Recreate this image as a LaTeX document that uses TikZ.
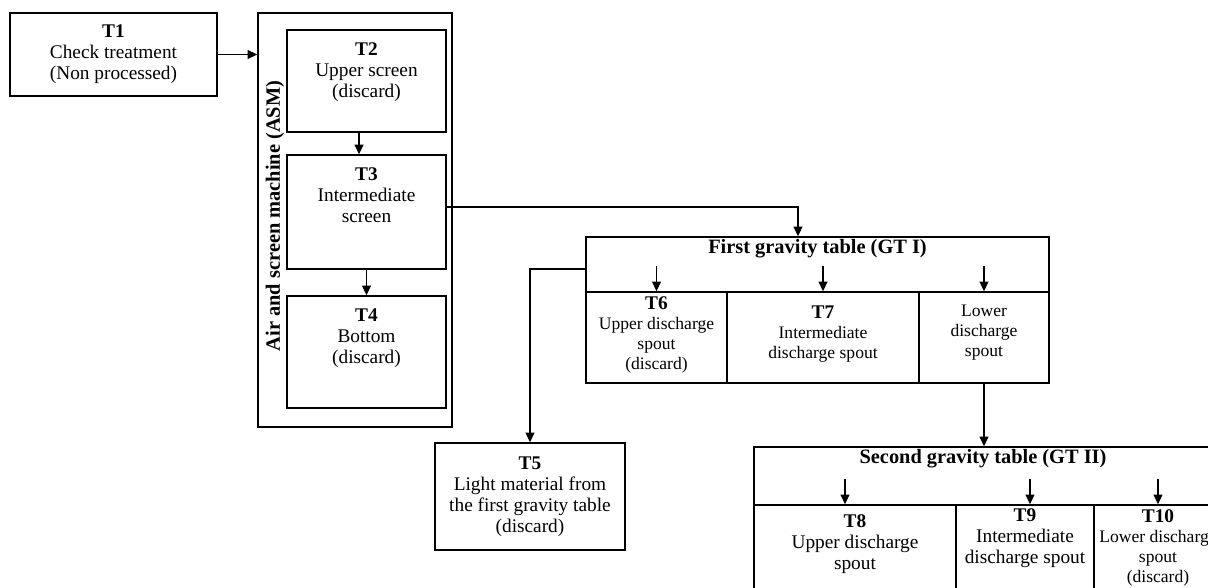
\documentclass[tikz,border=0pt]{standalone}
\usepackage{fontspec}
\setmainfont{Liberation Serif}
\usepackage{tikz}
\usetikzlibrary{arrows.meta}
\usetikzlibrary{positioning}

\newcommand{\tid}[1]{{\fontsize{11}{12}\selectfont\textbf{#1}}}

\tikzset{
  box/.style={draw, rectangle, inner sep=0pt, align=center, font=\fontsize{11}{12}\selectfont},
  cell/.style={draw, rectangle, inner sep=0pt},
  sz/.style 2 args={minimum width=#1*0.02cm, minimum height=#2*0.02cm},
  txt/.style={align=center, inner sep=0pt, font=\fontsize{11}{12}\selectfont},
  small/.style={align=center, inner sep=0pt, font=\fontsize{10}{11.4}\selectfont},
  heading/.style={inner sep=0pt, font=\fontsize{11.6}{13}\selectfont\bfseries},
  flow/.style={-{Triangle[length=5.5pt,width=5pt]}},
}

\begin{document}
\begin{tikzpicture}[x=0.02cm, y=-0.02cm, line width=0.8pt]
            \useasboundingbox (0,0) rectangle (1208,588);
            \clip (0,0) rectangle (1208,588);

            \node[box, sz={207}{83}] (t1) at (113.5,54.5) {\textbf{T1}\\Check treatment\\(Non processed)};

            \node[cell, sz={194}{414}] (asm) at (355,220) {};
            \node[heading, rotate=90] (asmname) at (275,216) {Air and screen machine (ASM)};
            \node[cell, sz={159}{102}] (t2) at (366.5,81) {};
            \node[txt, below=7.4pt of t2.north] (t2txt) {\textbf{T2}\\Upper screen\\(discard)};
            \node[cell, sz={159}{114}] (t3) at (366.5,212) {};
            \node[txt, below=7.4pt of t3.north] (t3txt) {\textbf{T3}\\Intermediate\\screen};
            \node[cell, sz={159}{112}] (t4) at (366.5,352) {};
            \node[txt, below=7.4pt of t4.north] (t4txt) {\textbf{T4}\\Bottom\\(discard)};

            \node[cell, sz={463}{55}] (gt1) at (817.5,264.5) {};
            \node[heading, below=1.5pt of gt1.north] (gt1name) {First gravity table (GT I)};
            \node[cell, sz={141}{91}] (t6) at (656.5,337.5) {};
            \node[cell, sz={192}{91}] (t7) at (823,337.5) {};
            \node[cell, sz={130}{91}] (lds) at (984,337.5) {};
            \node[small] (t6txt) at ([yshift=0.05cm]t6.center) {\tid{T6}\\Upper discharge\\spout\\(discard)};
            \node[small] (t7txt) at ([yshift=0.06cm]t7.center) {\tid{T7}\\Intermediate\\discharge spout};
            \node[small] (ldstxt) at ([yshift=0.1cm]lds.center) {Lower\\discharge\\spout};

            \node[box, sz={190}{107}] (t5) at (530,496.5) {\textbf{T5}\\Light material from\\the first gravity table\\(discard)};

            \node[cell, sz={468}{58}] (gt2) at (988,476) {};
            \node[heading, below=1.5pt of gt2.north, xshift=-0.1cm] (gt2name) {Second gravity table (GT II)};
            \node[cell, sz={202}{120}] (t8) at (855,565) {};
            \node[cell, sz={138}{120}] (t9) at (1025,565) {};
            \node[cell, sz={128}{120}] (t10) at (1158,565) {};
            \node[txt, below=5.5pt of t8.north] (t8txt) {\textbf{T8}\\Upper discharge\\spout};
            \node[txt, below=2pt of t9.north] (t9txt) {\textbf{T9}\\Intermediate\\discharge spout};
            \node[small, below=2.5pt of t10.north] (t10txt) {\tid{T10}\\Lower discharge\\spout\\(discard)};

            \draw[flow] (t1.east) -- (t1.east -| asm.west);
            \draw[flow] ([xshift=-0.15cm]t2.south) -- ([xshift=-0.15cm]t3.north);
            \draw[flow] (t3) -- (t4);
            \draw[flow] ([yshift=0.1cm]t3.east) -| ([xshift=-0.39cm]gt1.north);
            \draw[flow] ([yshift=-0.09cm]gt1.west) -| (t5.north);
            \draw[flow] ([yshift=0.5cm]t6.north) -- (t6.north);
            \draw[flow] ([yshift=0.5cm]t7.north) -- (t7.north);
            \draw[flow] ([yshift=0.5cm]lds.north) -- (lds.north);
            \draw[flow] (lds.south) -- (lds.south |- gt2.north);
            \draw[flow] ([xshift=-0.2cm, yshift=0.5cm]t8.north) -- ([xshift=-0.2cm]t8.north);
            \draw[flow] ([xshift=0.1cm, yshift=0.5cm]t9.north) -- ([xshift=0.1cm]t9.north);
            \draw[flow] ([yshift=0.5cm]t10.north) -- (t10.north);
        \end{tikzpicture}
\end{document}
